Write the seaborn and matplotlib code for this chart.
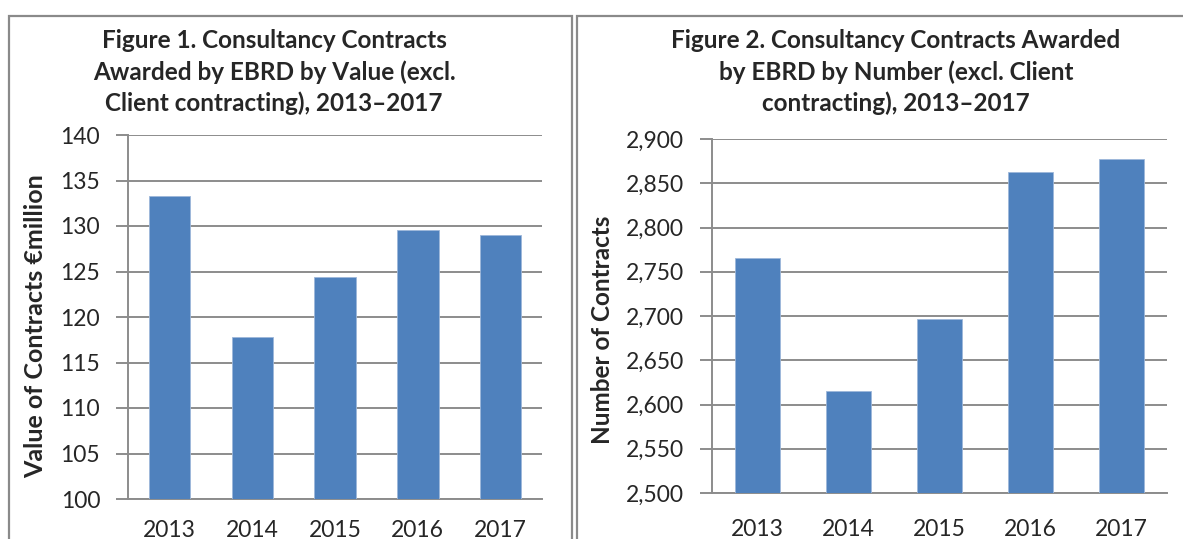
import matplotlib
matplotlib.use('Agg')
import matplotlib.pyplot as plt
import matplotlib.ticker as mticker
from matplotlib.patches import Rectangle
import seaborn as sns
import pandas as pd

# Data
years = ['2013', '2014', '2015', '2016', '2017']
value_eur_m = [133.3, 117.8, 124.4, 129.6, 129.0]
num_contracts = [2766, 2615, 2697, 2863, 2877]

title_1 = 'Figure 1. Consultancy Contracts\nAwarded by EBRD by Value (excl.\nClient contracting), 2013\u20132017'
title_2 = 'Figure 2. Consultancy Contracts Awarded\nby EBRD by Number (excl. Client\ncontracting), 2013\u20132017'

sns.set_style('white')
plt.rcParams['font.family'] = ['Lato', 'DejaVu Sans']

BAR = '#4F81BD'
GRID = '#8C8C8C'

W, H = 1183, 539
fig = plt.figure(figsize=(W / 100, H / 100), dpi=100)

def fx(px):
    return px / W

def fy(py):
    return 1 - py / H

# panel frames (Excel chart borders)
fig.patches.append(Rectangle((fx(9), fy(560)), fx(572 - 9), fy(16) - fy(560),
                             transform=fig.transFigure, fill=False,
                             edgecolor='#8A8A8A', linewidth=1.6))
fig.patches.append(Rectangle((fx(577), fy(560)), fx(1200 - 577), fy(16) - fy(560),
                             transform=fig.transFigure, fill=False,
                             edgecolor='#8A8A8A', linewidth=1.6))

ax1 = fig.add_axes([fx(128), fy(499), fx(542 - 128), fy(135) - fy(499)])
ax2 = fig.add_axes([fx(712), fy(493), fx(1167 - 712), fy(139) - fy(493)])

df1 = pd.DataFrame({'Year': years, 'Value': value_eur_m})
df2 = pd.DataFrame({'Year': years, 'Count': num_contracts})

sns.barplot(data=df1, x='Year', y='Value', color=BAR, saturation=1, width=0.5,
            edgecolor='#9DB7DA', linewidth=0.6, ax=ax1, zorder=3)
sns.barplot(data=df2, x='Year', y='Count', color=BAR, saturation=1, width=0.5,
            edgecolor='#9DB7DA', linewidth=0.6, ax=ax2, zorder=3)

ax1.set_ylim(100, 140)
ax1.yaxis.set_major_locator(mticker.MultipleLocator(5))
ax2.set_ylim(2500, 2900)
ax2.yaxis.set_major_locator(mticker.MultipleLocator(50))
ax2.yaxis.set_major_formatter(mticker.StrMethodFormatter('{x:,.0f}'))

for ax in (ax1, ax2):
    ax.set_xlim(-0.5, 4.5)
    ax.grid(axis='y', color=GRID, linewidth=1.4, zorder=0)
    ax.set_axisbelow(True)
    for s in ('top', 'right'):
        ax.spines[s].set_visible(False)
    for s in ('left', 'bottom'):
        ax.spines[s].set_color(GRID)
        ax.spines[s].set_linewidth(1.4)
    ax.set_xticks([-0.5, 0.5, 1.5, 2.5, 3.5, 4.5], minor=True)
    ax.tick_params(axis='x', which='minor', length=8, width=1.4, color=GRID, direction='out')
    ax.tick_params(axis='y', length=9, width=1.4, color=GRID, direction='out',
                   pad=11, labelsize=16.5, left=True)
    ax.set_xlabel('')

ax1.tick_params(axis='x', which='major', length=0, pad=15, labelsize=16.5)
ax2.tick_params(axis='x', which='major', length=0, pad=19, labelsize=16.5)

ax1.set_ylabel('Value of Contracts \u20acmillion', fontsize=18, fontweight='bold')
ax2.set_ylabel('Number of Contracts', fontsize=17.5, fontweight='bold')
ax1.yaxis.set_label_coords(-0.196, 0.475)
ax2.yaxis.set_label_coords(-0.216, 0.46)

fig.text(fx(274), fy(72), title_1, ha='center', va='center', fontsize=17.5,
         fontweight='bold', linespacing=1.4)
fig.text(fx(896), fy(72), title_2, ha='center', va='center', fontsize=17.5,
         fontweight='bold', linespacing=1.4)

fig.savefig('out.png', dpi=100)
